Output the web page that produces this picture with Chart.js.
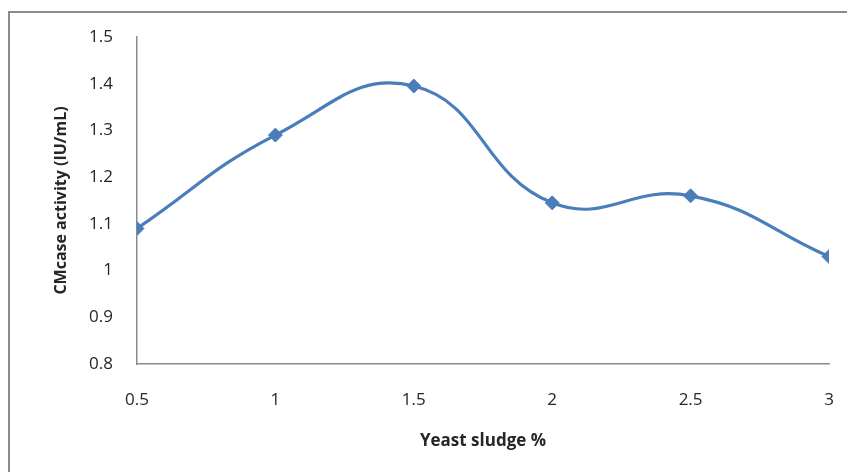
<!DOCTYPE html>
<html>
<head>
<meta charset="utf-8">
<script src="https://cdn.jsdelivr.net/npm/chart.js@4"></script>
<style>
  html, body { margin: 0; padding: 0; background: #ffffff; }
  #wrap { position: relative; width: 847px; height: 472px; }
  #frame { position: absolute; left: 8px; top: 11px; width: 839px; height: 461px;
           border-top: 2px solid #8c8c8c; border-left: 2px solid #8c8c8c; box-sizing: border-box; }
  canvas { position: absolute; left: 0; top: 0; }
</style>
</head>
<body>
<div id="wrap">
  <div id="frame"></div>
  <canvas id="chart" width="847" height="472"></canvas>
</div>
<script>
// Yeast sludge concentration (%) and measured CMCase activity (IU/mL)
const sludgePercent = [0.5, 1, 1.5, 2, 2.5, 3];
const cmcaseActivity = [1.09, 1.29, 1.395, 1.145, 1.16, 1.03];
const yTicks = [0.8, 0.9, 1, 1.1, 1.2, 1.3, 1.4, 1.5];
const xTicks = [0.5, 1, 1.5, 2, 2.5, 3];

const blue = '#4a7ebb';
const textColor = '#262626';
const fontFamily = '"Open Sans", "Liberation Sans", sans-serif';

new Chart(document.getElementById('chart'), {
  type: 'scatter',
  data: {
    datasets: [{
      data: sludgePercent.map((x, i) => ({ x: x, y: cmcaseActivity[i] })),
      showLine: true,
      tension: 0.45,
      borderColor: blue,
      borderWidth: 3.2,
      backgroundColor: blue,
      pointStyle: 'rectRot',
      pointRadius: 7,
      pointBorderWidth: 1,
      pointBackgroundColor: blue,
      pointBorderColor: blue
    }]
  },
  options: {
    responsive: false,
    animation: false,
    layout: { padding: { left: 10, top: 37, right: 18, bottom: 0 } },
    plugins: { legend: { display: false }, tooltip: { enabled: false } },
    scales: {
      x: {
        type: 'linear',
        min: 0.5, max: 3,
        afterBuildTicks: s => { s.ticks = xTicks.map(v => ({ value: v })); },
        afterFit: s => { s.height = 472 - 364; s.paddingLeft = 0; s.paddingRight = 0; },
        grid: { display: false, drawTicks: false },
        border: { display: true, color: '#8c8c8c', width: 1.5 },
        ticks: { padding: 26, color: textColor, font: { family: fontFamily, size: 17 }, maxRotation: 0,
                 callback: v => String(v) },
        title: { display: true, text: 'Yeast sludge %', color: textColor,
                 font: { family: fontFamily, size: 17, weight: 'bold' }, padding: { top: 0, bottom: 21 } }
      },
      y: {
        min: 0.8, max: 1.5,
        afterBuildTicks: s => { s.ticks = yTicks.map(v => ({ value: v })); },
        afterFit: s => { s.width = 137 - 10; s.paddingTop = 0; s.paddingBottom = 0; },
        grid: { display: false, drawTicks: false },
        border: { display: true, color: '#8c8c8c', width: 1.5 },
        ticks: { padding: 24, color: textColor, font: { family: fontFamily, size: 17 },
                 callback: v => String(v) },
        title: { display: true, text: 'CMcase activity (IU/mL)', color: textColor,
                 font: { family: fontFamily, size: 16, weight: 'bold' }, padding: { top: 42, bottom: 0 } }
      }
    }
  }
});
</script>
</body>
</html>
